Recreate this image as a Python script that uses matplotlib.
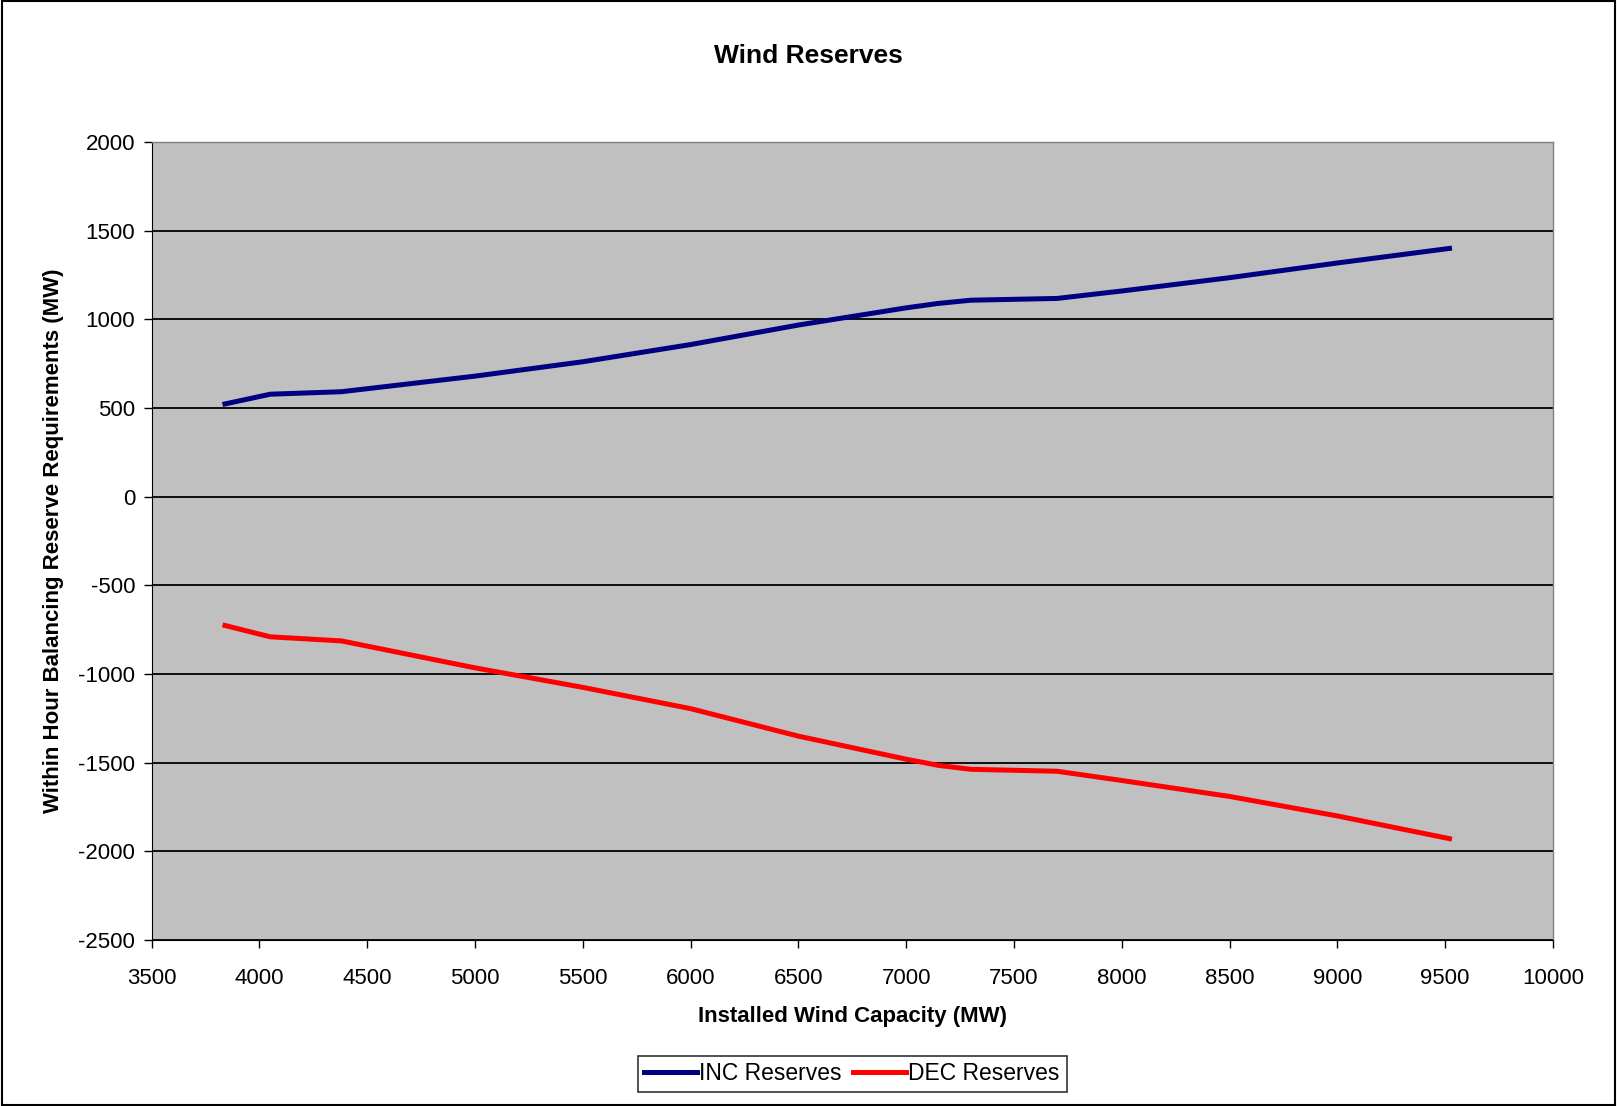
import matplotlib.pyplot as plt
from matplotlib.patches import Rectangle

plt.rcParams['font.family'] = ['Liberation Sans', 'DejaVu Sans']
plt.rcParams['axes.unicode_minus'] = False

capacity = [3840, 4050, 4380, 5000, 5500, 6000, 6500, 7000, 7150, 7300, 7700, 8000, 8500, 9000, 9520]
inc_reserves = [523, 578, 592, 680, 761, 858, 968, 1065, 1090, 1108, 1118, 1160, 1235, 1318, 1400]
dec_reserves = [-726, -790, -813, -965, -1075, -1195, -1350, -1480, -1515, -1537, -1548, -1600, -1690, -1800, -1928]

x_ticks = list(range(3500, 10001, 500))
y_ticks = list(range(-2500, 2001, 500))

fig = plt.figure(figsize=(16.17, 11.06), dpi=100)
fig.patch.set_facecolor('white')
fig.patches.append(Rectangle((0.001, 0.001), 0.998, 0.998, transform=fig.transFigure,
                             fill=False, edgecolor='black', linewidth=1.5))

ax = fig.add_axes([0.0938, 0.150, 0.8666, 0.7216])
ax.set_facecolor('#c0c0c0')

ax.plot(capacity, inc_reserves, color='#000080', linewidth=3.6, label='INC Reserves')
ax.plot(capacity, dec_reserves, color='#ff0000', linewidth=3.6, label='DEC Reserves')

ax.set_xlim(3500, 10000)
ax.set_ylim(-2500, 2000)
ax.set_xticks(x_ticks)
ax.set_yticks(y_ticks)
ax.tick_params(axis='both', direction='out', length=6, width=1, labelsize=16, colors='black')
ax.tick_params(axis='x', pad=14)
ax.tick_params(axis='y', pad=6)
ax.yaxis.grid(True, color='black', linewidth=1.3)
ax.set_axisbelow(True)

for side in ['top', 'right']:
    ax.spines[side].set_color('#808080')
    ax.spines[side].set_linewidth(1)
ax.spines['left'].set_color('black')
ax.spines['bottom'].set_color('black')

fig.text(0.5, 0.949, 'Wind Reserves', fontsize=19, fontweight='bold', ha='center', va='center')
ax.set_xlabel('Installed Wind Capacity (MW)', fontsize=16, fontweight='bold', labelpad=12)
ax.set_ylabel('Within Hour Balancing Reserve Requirements (MW)', fontsize=16,
              fontweight='bold', labelpad=10)

leg = fig.legend(loc='center', bbox_to_anchor=(0.527, 0.029), ncol=2, fontsize=16.5,
                 frameon=True, fancybox=False, edgecolor='black', handlelength=2.3,
                 handletextpad=0.1, columnspacing=0.5, borderpad=0.3)
leg.get_frame().set_linewidth(1.2)

fig.savefig('out.png', dpi=100, facecolor='white')
